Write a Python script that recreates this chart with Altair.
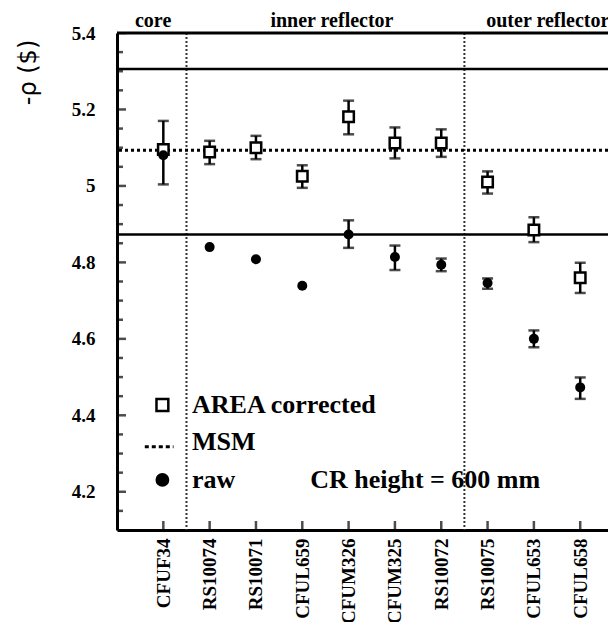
import altair as alt
import pandas as pd

names = ["CFUF34", "RS10074", "RS10071", "CFUL659", "CFUM326",
         "CFUM325", "RS10072", "RS10075", "CFUL653", "CFUL658"]
pos = [1, 2, 3, 4, 5, 6, 7, 8, 9, 10]
area = [5.095, 5.089, 5.100, 5.025, 5.181, 5.112, 5.112, 5.010, 4.885, 4.760]
area_lo = [None, 5.057, 5.070, 4.995, 5.135, 5.072, 5.076, 4.980, 4.853, 4.720]
area_hi = [None, 5.118, 5.131, 5.054, 5.223, 5.153, 5.148, 5.038, 4.918, 4.799]
raw = [5.080, 4.840, 4.808, 4.739, 4.873, 4.814, 4.794, 4.746, 4.600, 4.473]
raw_lo = [5.004, None, None, None, 4.838, 4.780, 4.777, 4.731, 4.578, 4.443]
raw_hi = [5.170, None, None, None, 4.910, 4.844, 4.810, 4.758, 4.622, 4.499]

msm = [5.093]
bounds = [5.306, 4.873]
region_sep = [1.5, 7.5]
regions = ["core", "inner reflector", "outer reflector"]
region_x = [0.78, 4.64, 9.30]

major_ticks = [4.2, 4.4, 4.6, 4.8, 5.0, 5.2, 5.4]
minor_ticks = [4.15, 4.25, 4.3, 4.35, 4.45, 4.5, 4.55, 4.65, 4.7, 4.75,
               4.85, 4.9, 4.95, 5.05, 5.1, 5.15, 5.25, 5.3, 5.35]

W, H = 491, 497
SERIF = "Liberation Serif"
XD = [0, 10.6]
YD = [4.1, 5.4]

df = pd.DataFrame({"pos": pos, "name": names, "area": area, "area_lo": area_lo,
                   "area_hi": area_hi, "raw": raw, "raw_lo": raw_lo, "raw_hi": raw_hi})

label_expr = "[" + ",".join("'%s'" % n for n in names) + "][datum.value - 1]"

xs = alt.Scale(domain=XD, nice=False, zero=False)
ys = alt.Scale(domain=YD, nice=False, zero=False)

X = alt.X("pos:Q", scale=xs, axis=alt.Axis(
    values=pos, labelExpr=label_expr, labelAngle=270, labelAlign="right",
    labelBaseline="middle", labelFont=SERIF, labelFontWeight="bold", labelFontSize=19,
    labelColor="black", ticks=False, tickSize=0, labelPadding=8, grid=False,
    labelOverlap=False, domainColor="black", domainWidth=3, title=None))

Y_axis = alt.Axis(values=major_ticks, format="~g", labelFont=SERIF, labelFontWeight="bold",
                  labelFontSize=19, labelColor="black", ticks=False, tickSize=0,
                  labelPadding=22, grid=False, domainColor="black", domainWidth=3,
                  title="-ρ ($)", titleFont="DejaVu Sans", titleFontWeight="normal",
                  titleFontSize=24, titleColor="black", titleAngle=270,
                  titleX=-89, titleY=39, titleAlign="center", titleBaseline="middle")

base = alt.Chart(df)

axes = base.mark_point(opacity=0).encode(x=X, y=alt.Y("area:Q", scale=ys, axis=Y_axis))

top_line = alt.Chart(pd.DataFrame({"y": [5.4]})).mark_rule(color="black", strokeWidth=3).encode(
    y=alt.Y("y:Q", scale=ys))

hlines = alt.Chart(pd.DataFrame({"y": bounds})).mark_rule(color="black", strokeWidth=2.5).encode(
    y=alt.Y("y:Q", scale=ys))

msm_line = alt.Chart(pd.DataFrame({"y": msm})).mark_rule(
    color="black", strokeWidth=3, strokeDash=[3, 3]).encode(y=alt.Y("y:Q", scale=ys))

vlines = alt.Chart(pd.DataFrame({"x": region_sep})).mark_rule(
    color="#333", strokeWidth=2, strokeDash=[2, 2]).encode(x=alt.X("x:Q", scale=xs))

ymaj = alt.Chart(pd.DataFrame({"y": major_ticks})).mark_tick(
    orient="horizontal", size=18, thickness=2.5, color="black", clip=True).encode(
    y=alt.Y("y:Q", scale=ys), x=alt.value(0))
ymin = alt.Chart(pd.DataFrame({"y": minor_ticks})).mark_tick(
    orient="horizontal", size=12, thickness=2.5, color="black", clip=True).encode(
    y=alt.Y("y:Q", scale=ys), x=alt.value(0))
xt = alt.Chart(pd.DataFrame({"x": pos})).mark_tick(
    orient="vertical", size=18, thickness=2.5, color="black", clip=True).encode(
    x=alt.X("x:Q", scale=xs), y=alt.value(H))

def errbars(lo, hi):
    b = base.transform_filter("isValid(datum.%s)" % lo)
    rule = b.mark_rule(color="black", strokeWidth=2.5).encode(
        x=alt.X("pos:Q", scale=xs), y=alt.Y(lo + ":Q", scale=ys), y2=hi + ":Q")
    c1 = b.mark_tick(orient="horizontal", size=11, thickness=2.5, color="black").encode(
        x=alt.X("pos:Q", scale=xs), y=alt.Y(lo + ":Q", scale=ys))
    c2 = b.mark_tick(orient="horizontal", size=11, thickness=2.5, color="black").encode(
        x=alt.X("pos:Q", scale=xs), y=alt.Y(hi + ":Q", scale=ys))
    return rule + c1 + c2

sq = base.mark_point(shape="square", size=110, filled=False, fill="white", fillOpacity=1,
                     stroke="black", strokeWidth=2.5, opacity=1).encode(
    x=alt.X("pos:Q", scale=xs), y=alt.Y("area:Q", scale=ys))
circ = base.mark_point(shape="circle", size=100, filled=True, color="black", opacity=1).encode(
    x=alt.X("pos:Q", scale=xs), y=alt.Y("raw:Q", scale=ys))

reg = alt.Chart(pd.DataFrame({"x": region_x, "t": regions})).mark_text(
    font=SERIF, fontWeight="bold", fontSize=20, color="black", baseline="middle").encode(
    x=alt.X("x:Q", scale=xs), y=alt.value(-12), text="t:N")

leg_sq = alt.Chart(pd.DataFrame({"x": [0.98], "y": [4.427]})).mark_point(
    shape="square", size=140, filled=False, stroke="black", strokeWidth=2.5, opacity=1).encode(
    x=alt.X("x:Q", scale=xs), y=alt.Y("y:Q", scale=ys))
leg_dot = alt.Chart(pd.DataFrame({"x": [0.6], "x2": [1.22], "y": [4.318]})).mark_rule(
    color="black", strokeWidth=3, strokeDash=[4, 3]).encode(
    x=alt.X("x:Q", scale=xs), x2="x2:Q", y=alt.Y("y:Q", scale=ys))
leg_c = alt.Chart(pd.DataFrame({"x": [0.98], "y": [4.231]})).mark_point(
    shape="circle", size=190, filled=True, color="black", opacity=1).encode(
    x=alt.X("x:Q", scale=xs), y=alt.Y("y:Q", scale=ys))
leg_txt = alt.Chart(pd.DataFrame({
    "x": [1.62, 1.62, 1.62, 4.17],
    "y": [4.427, 4.330, 4.231, 4.231],
    "t": ["AREA corrected", "MSM", "raw", "CR height = 600 mm"]})).mark_text(
    font=SERIF, fontWeight="bold", fontSize=26, color="black", align="left",
    baseline="middle").encode(x=alt.X("x:Q", scale=xs), y=alt.Y("y:Q", scale=ys), text="t:N")

chart = alt.layer(
    axes, vlines, hlines, msm_line, top_line, ymaj, ymin, xt,
    errbars("area_lo", "area_hi"), errbars("raw_lo", "raw_hi"),
    sq, circ, reg, leg_sq, leg_dot, leg_c, leg_txt
).properties(
    width=W, height=H,
    autosize=alt.AutoSizeParams(type="none"),
    padding={"left": 109, "top": 25, "right": 0, "bottom": 92},
    background="white"
).configure_view(stroke=None)

chart.save("out.html", embed_options={"renderer": "svg", "actions": False})
